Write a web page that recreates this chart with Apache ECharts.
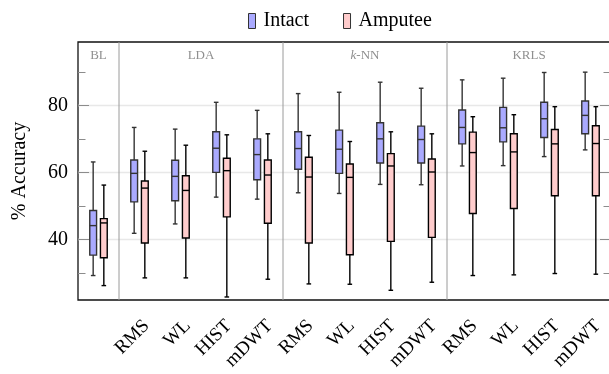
<!DOCTYPE html>
<html>
<head>
<meta charset="utf-8">
<script src="https://cdn.jsdelivr.net/npm/echarts@6/dist/echarts.min.js"></script>
<style>
  html, body { margin: 0; padding: 0; background: #fff; }
  #chart { width: 609px; height: 374px; }
</style>
</head>
<body>
<div id="chart"></div>
<script>
// categories (unique keys) and the labels printed under them
const categories = ["BL", "LDA-RMS", "LDA-WL", "LDA-HIST", "LDA-mDWT", "kNN-RMS", "kNN-WL", "kNN-HIST", "kNN-mDWT", "KRLS-RMS", "KRLS-WL", "KRLS-HIST", "KRLS-mDWT"];
const tickLabels = ["", "RMS", "WL", "HIST", "mDWT", "RMS", "WL", "HIST", "mDWT", "RMS", "WL", "HIST", "mDWT"];

// classifier groups: label, first and last category index
const groupNames = ["BL", "LDA", "{i|k}-NN", "KRLS"];
const groupFrom = [0, 1, 5, 9];
const groupTo = [0, 4, 8, 12];

// [min, q1, median, q3, max] per category
const intactBoxes = [
  [29.3, 35.4, 44.2, 48.7, 63.2],
  [41.9, 51.3, 59.8, 63.8, 73.5],
  [44.7, 51.6, 58.9, 63.7, 73.0],
  [52.7, 60.1, 67.3, 72.2, 81.0],
  [52.1, 57.9, 65.4, 70.1, 78.6],
  [54.0, 61.0, 67.2, 72.2, 83.6],
  [53.8, 59.8, 67.0, 72.7, 84.0],
  [56.5, 62.9, 70.1, 74.9, 87.0],
  [56.4, 62.9, 69.9, 73.9, 85.2],
  [62.0, 68.6, 73.5, 78.7, 87.7],
  [62.1, 69.2, 73.4, 79.5, 88.2],
  [64.8, 70.5, 76.1, 81.0, 89.9],
  [66.8, 71.6, 77.1, 81.4, 90.0]
];
const amputeeBoxes = [
  [26.3, 34.6, 45.0, 46.3, 56.3],
  [28.6, 39.0, 55.4, 57.5, 66.4],
  [28.6, 40.5, 54.7, 59.1, 68.2],
  [22.9, 46.8, 60.6, 64.3, 71.3],
  [28.2, 44.9, 59.3, 63.8, 71.6],
  [26.8, 39.0, 58.7, 64.6, 71.1],
  [26.7, 35.5, 58.6, 62.6, 69.3],
  [24.9, 39.5, 62.0, 65.7, 72.2],
  [27.3, 40.7, 60.2, 64.1, 71.6],
  [29.3, 47.8, 66.0, 72.1, 76.7],
  [29.5, 49.3, 66.2, 71.6, 77.3],
  [29.9, 53.1, 68.6, 72.9, 79.7],
  [29.7, 53.1, 68.7, 74.0, 79.7]
];

const yMin = 22;
const yMax = 99;
const majorTicks = [40, 60, 80];
const minorTicks = [30, 50, 70, 90];

const FONT = "'Liberation Serif', 'DejaVu Serif', serif";
const TICK_GRAY = "#8c8c8c";

const chart = echarts.init(document.getElementById("chart"), null, { renderer: "canvas" });

function boxRenderer(side, fill, stroke) {
  return function (params, api) {
    const i = api.value(0);
    const band = api.size([1, 0])[0];
    const x = api.coord([i, 0])[0] + side * band * 0.13;
    const y = [1, 2, 3, 4, 5].map((k) => api.coord([i, api.value(k)])[1]);
    const hw = 3.4;
    const cw = 2.3;
    const ls = { stroke: stroke, lineWidth: 1.4 };
    return {
      type: "group",
      children: [
        { type: "line", shape: { x1: x, y1: y[0], x2: x, y2: y[1] }, style: ls },
        { type: "line", shape: { x1: x, y1: y[3], x2: x, y2: y[4] }, style: ls },
        { type: "line", shape: { x1: x - cw, y1: y[0], x2: x + cw, y2: y[0] }, style: ls },
        { type: "line", shape: { x1: x - cw, y1: y[4], x2: x + cw, y2: y[4] }, style: ls },
        { type: "rect", shape: { x: x - hw, y: y[3], width: hw * 2, height: y[1] - y[3] }, style: { fill: fill, stroke: stroke, lineWidth: 1.4 } },
        { type: "line", shape: { x1: x - hw, y1: y[2], x2: x + hw, y2: y[2] }, style: ls }
      ]
    };
  };
}

function frameRenderer(params, api) {
  const from = api.value(0);
  const to = api.value(1);
  const band = api.size([1, 0])[0];
  const x0 = api.coord([from, yMin])[0] - band / 2;
  const x1 = api.coord([to, yMin])[0] + band / 2;
  const top = params.coordSys.y;
  const bottom = top + params.coordSys.height;
  const children = [
    {
      type: "text",
      style: {
        x: (x0 + x1) / 2,
        y: top + 14,
        text: groupNames[params.dataIndex],
        fill: "#8f8f8f",
        font: "13px " + FONT,
        align: "center",
        verticalAlign: "middle",
        rich: { i: { fontStyle: "italic", fontFamily: FONT, fontSize: 13, fill: "#8f8f8f" } }
      }
    }
  ];
  if (from > 0) {
    children.push({ type: "line", shape: { x1: x0, y1: top, x2: x0, y2: bottom }, style: { stroke: "#9a9a9a", lineWidth: 1 } });
  }
  return { type: "group", children: children };
}

const yBase = {
  type: "value",
  min: yMin,
  max: yMax,
  axisLine: { show: false },
  splitLine: { show: false }
};

const option = {
  animation: false,
  textStyle: { fontFamily: FONT },
  grid: {
    left: 78,
    top: 42,
    width: 533,
    height: 258,
    outerBoundsMode: "none",
    show: true,
    borderColor: "#111",
    borderWidth: 1.3,
    backgroundColor: "transparent"
  },
  legend: {
    left: 243,
    top: 6,
    itemWidth: 7,
    itemHeight: 15,
    itemGap: 34,
    textStyle: { fontFamily: FONT, fontSize: 20, color: "#000", padding: [0, 0, 0, 3] },
    data: [
      { name: "Intact", icon: "rect", itemStyle: { color: "#aaaaff", borderColor: "#333", borderWidth: 1 } },
      { name: "Amputee", icon: "rect", itemStyle: { color: "#ffcccc", borderColor: "#333", borderWidth: 1 } }
    ]
  },
  xAxis: [
    {
      type: "category",
      data: categories,
      position: "bottom",
      axisLine: { show: false },
      axisTick: { alignWithLabel: true, interval: 0, length: 11, lineStyle: { color: TICK_GRAY } },
      axisLabel: {
        interval: 0,
        rotate: 45,
        margin: 30,
        padding: [0, -10, 0, 0],
        fontSize: 19,
        fontFamily: FONT,
        color: "#000",
        formatter: (v, i) => tickLabels[i]
      },
      splitLine: { show: false }
    },
    {
      type: "category",
      data: categories,
      position: "top",
      axisLine: { show: false },
      axisTick: { alignWithLabel: true, interval: 0, length: 10, lineStyle: { color: TICK_GRAY } },
      axisLabel: { show: false },
      splitLine: { show: false }
    }
  ],
  yAxis: [
    {
      ...yBase,
      position: "left",
      axisTick: { show: true, inside: true, length: 11, customValues: majorTicks, lineStyle: { color: TICK_GRAY } },
      axisLabel: { customValues: majorTicks, margin: 10, fontSize: 20, fontFamily: FONT, color: "#000" },
      name: "% Accuracy",
      nameLocation: "middle",
      nameGap: 48,
      nameTextStyle: { fontSize: 20, fontFamily: FONT, color: "#000" }
    },
    {
      ...yBase,
      position: "left",
      axisTick: { show: true, inside: true, length: 7.5, customValues: minorTicks, lineStyle: { color: TICK_GRAY } },
      axisLabel: { show: false }
    },
    {
      ...yBase,
      position: "right",
      axisTick: { show: true, inside: true, length: 11, customValues: majorTicks, lineStyle: { color: TICK_GRAY } },
      axisLabel: { show: false }
    },
    {
      ...yBase,
      position: "right",
      axisTick: { show: true, inside: true, length: 7.5, customValues: minorTicks, lineStyle: { color: TICK_GRAY } },
      axisLabel: { show: false }
    }
  ],
  series: [
    {
      name: "frame",
      type: "custom",
      silent: true,
      z: 1,
      renderItem: frameRenderer,
      encode: { x: 0 },
      data: groupFrom.map((f, i) => [f, groupTo[i]]),
      markLine: {
        silent: true,
        z: 0,
        zlevel: 0,
        symbol: "none",
        label: { show: false },
        lineStyle: { color: "#e8e8e8", type: "solid", width: 1.4 },
        data: majorTicks.map((v) => ({ yAxis: v }))
      }
    },
    {
      name: "Intact",
      type: "custom",
      z: 3,
      itemStyle: { color: "#aaaaff" },
      renderItem: boxRenderer(-1, "#aaaaff", "#333"),
      encode: { x: 0, y: [1, 2, 3, 4, 5] },
      data: intactBoxes.map((b, i) => [i].concat(b))
    },
    {
      name: "Amputee",
      type: "custom",
      z: 3,
      itemStyle: { color: "#ffcccc" },
      renderItem: boxRenderer(1, "#ffcccc", "#000"),
      encode: { x: 0, y: [1, 2, 3, 4, 5] },
      data: amputeeBoxes.map((b, i) => [i].concat(b))
    }
  ]
};

chart.setOption(option);

window.addEventListener("resize", () => chart.resize());
</script>
</body>
</html>
